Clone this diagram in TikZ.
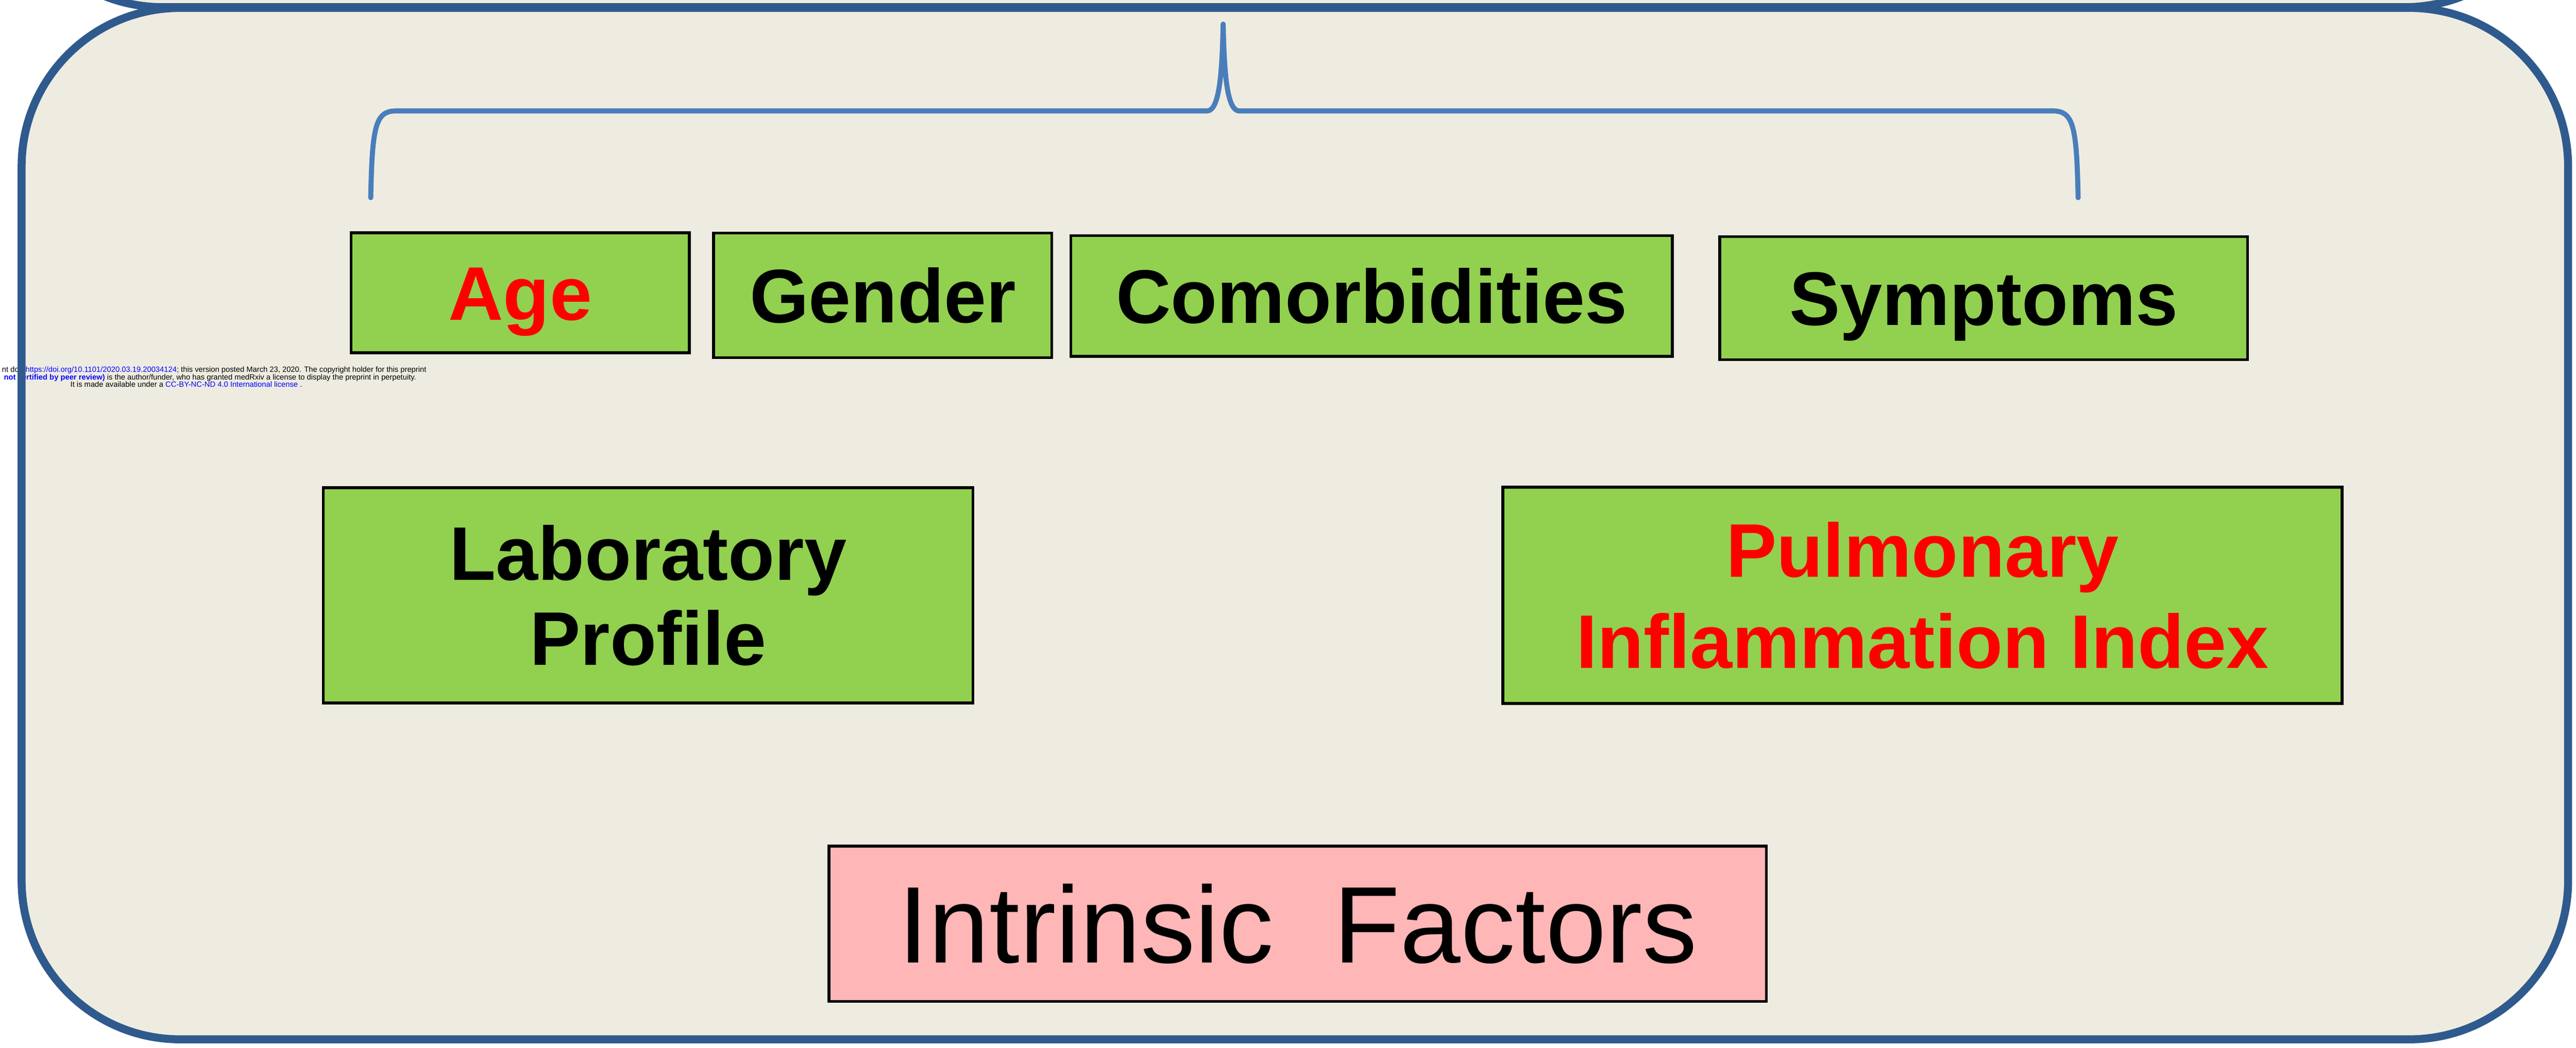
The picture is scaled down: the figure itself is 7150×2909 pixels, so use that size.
\documentclass[tikz,border=0pt]{standalone}
\usepackage{fontspec}
\setmainfont{Liberation Sans}
\definecolor{bgbeige}{HTML}{EEECE1}
\definecolor{frameblue}{HTML}{2F5A8E}
\definecolor{bracecol}{HTML}{4A7EBB}
\definecolor{boxgreen}{HTML}{92D050}
\definecolor{boxpink}{HTML}{FFB6B6}
\definecolor{linkblue}{HTML}{0000FF}
\begin{document}
\begin{tikzpicture}[x=0.01cm,y=0.01cm,
  framestyle/.style={draw=frameblue,line width=6.3pt},
  gbox/.style={draw=black,line width=2.3pt,fill=boxgreen,inner sep=0pt,
    font=\fontsize{60}{70}\selectfont\bfseries,align=center},
  pbox/.style={draw=black,line width=2.3pt,fill=boxpink,inner sep=0pt,
    font=\fontsize{86}{96}\selectfont,text height=62pt,text depth=0pt},
  oneline/.style={text height=43pt,text depth=0pt},
  bracestyle/.style={draw=bracecol,line width=4pt,line cap=round,line join=round},
  smalltext/.style={inner sep=0pt,font=\fontsize{6}{7}\selectfont,text height=4.3pt,text depth=1.3pt}]
\useasboundingbox (0,0) rectangle (7150,2909);
\fill[white] (0,0) rectangle (7150,2909);
% upper (cropped) box
\begin{scope}
\clip (0,0) rectangle (7150,2909);
\path[framestyle,fill=bgbeige,rounded corners=4.4cm] (12,2889) rectangle (7114,3700);
\end{scope}
% main box fill
\fill[bgbeige,rounded corners=4.4cm] (60,23) rectangle (7128,2887);
% stamp text
\node[smalltext,anchor=east] (stampa) at (1184,1881) {nt doi: \textcolor{linkblue}{https://doi.org/10.1101/2020.03.19.20034124}; this version posted March 23, 2020. The copyright holder for this preprint};
\node[smalltext,anchor=east] (stampb) at (1156,1860) {\textcolor{linkblue}{\bfseries not certified by peer review)} is the author/funder, who has granted medRxiv a license to display the preprint in perpetuity.};
\node[smalltext] (stampc) at (517,1839) {It is made available under a \textcolor{linkblue}{CC-BY-NC-ND 4.0 International license} .};
% main box border
\draw[framestyle,rounded corners=4.4cm] (60,23) rectangle (7128,2887);
% brace
\coordinate (bl) at (1029,2360);
\coordinate (br) at (5768,2360);
\coordinate (peak) at (3395,2842);
\draw[bracestyle] (bl) .. controls (1033,2560) and (1042,2601) .. (1100,2601)
  -- (3352,2601) .. controls (3384,2605) and (3392,2700) .. (peak)
  .. controls (3398,2700) and (3406,2605) .. (3438,2601)
  -- (5697,2601) .. controls (5755,2601) and (5764,2560) .. (br);
% boxes
\node[gbox,oneline,minimum width=9.38cm,minimum height=3.33cm,text=red] (age) at (1444,2096) {Age};
\node[gbox,oneline,minimum width=9.38cm,minimum height=3.46cm] (gender) at (2450,2089) {Gender};
\node[gbox,oneline,minimum width=16.69cm,minimum height=3.35cm] (comorb) at (3807,2087) {Comorbidities};
\node[gbox,oneline,minimum width=14.64cm,minimum height=3.42cm] (sympt) at (5506,2081) {Symptoms};
\node[gbox,minimum width=18.02cm,minimum height=5.98cm,font=\fontsize{60}{67}\selectfont\bfseries] (lab) at (1799,1256) {Laboratory\\Profile};
\node[gbox,minimum width=23.28cm,minimum height=6.0cm,text=red,font=\fontsize{60}{72}\selectfont\bfseries] (pii) at (5336,1256) {Pulmonary\\Inflammation Index};
\node[pbox,minimum width=26.0cm,minimum height=4.31cm] (intr) at (3602,344) {Intrinsic\hspace{0.55em}Factors};
\end{tikzpicture}
\end{document}
